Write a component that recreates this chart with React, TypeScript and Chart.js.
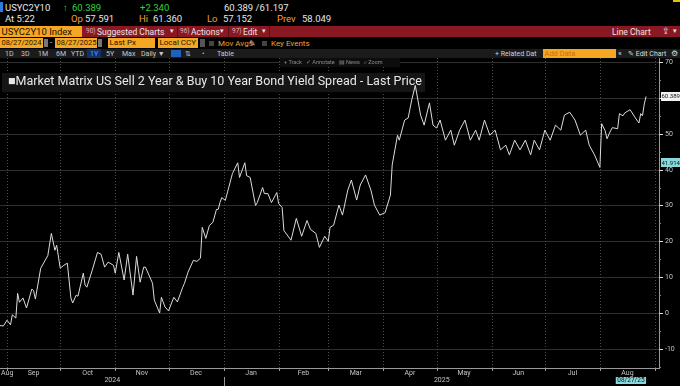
import React, { useEffect, useRef } from "react";
import { Chart, registerables } from "chart.js";
Chart.register(...registerables);

// days since 2024-08-27
const dayOffsets = [
  1, 3, 5, 7, 8, 10, 11, 12, 14, 16, 19, 20, 21, 24, 28, 30, 32, 33, 35, 37, 39, 41, 42, 44, 45, 48, 49, 50, 53, 56, 58, 60, 62,
  65, 66, 68, 71, 73, 76, 78, 80, 82, 83, 87, 88, 91, 92, 94, 96, 99, 101, 104, 105, 107, 110, 112, 114, 115, 117, 119, 121, 123,
  124, 125, 126, 128, 132, 135, 136, 139, 140, 142, 145, 146, 149, 150, 152, 154, 157, 158, 160, 161, 165, 168, 171, 174, 176,
  179, 181, 184, 186, 187, 189, 192, 194, 197, 199, 202, 204, 207, 210, 212, 215, 218, 221, 222, 225, 226, 229, 231, 233, 235,
  238, 240, 242, 243, 245, 247, 249, 252, 255, 257, 260, 263, 266, 269, 271, 274, 277, 280, 283, 286, 288, 291, 294, 297, 300,
  302, 305, 308, 311, 314, 317, 319, 322, 325, 328, 331, 333, 336, 339, 340, 342, 343, 345, 346, 349, 350, 352, 353, 356, 359,
  361, 362, 363, 364, 365,
];
const spreadValues = [
  -3.5, -3.6, -2.0, -3.3, -0.5, -1.4, 5.5, 3.0, 4.2, 1.4, 6.7, 6.2, 3.9, 12.5, 16.0, 22.2, 17.5, 18.9, 12.5, 13.3, 13.9, 4.2, 2.8,
  5.0, 4.7, 11.1, 7.8, 7.2, 11.9, 16.9, 16.4, 12.8, 14.2,
  13.3, 11.1, 16.9, 9.2, 16.4, 5.0, 15.8, 8.6, 12.8, 12.8, 8.3, 3.6, 0.0, 4.4, 1.7, 0.6, 4.4, 3.1, 7.2, 8.3, 11.4, 14.7, 14.4,
  15.3, 23.9, 20.8, 24.4, 25.3, 28.9,
  28.9, 30.8, 32.2, 31.4, 38.9, 41.9, 37.8, 41.9, 38.3, 37.8, 30.0, 30.8, 35.0, 33.3, 33.3, 30.8, 33.6, 30.6, 29.4, 23.0, 20.3,
  26.4, 21.4, 25.8, 23.3,
  22.2, 18.3, 21.4, 20.0, 23.9, 24.5, 30.1, 27.3, 34.3, 37.1, 31.5, 35.7, 38.5, 34.3, 30.1, 27.3, 28.0, 32.9, 41.3, 49.6, 48.2,
  53.8, 54.4, 59.4, 63.5,
  55.2, 52.4, 56.6, 58.6, 52.4, 51.6, 53.8, 48.2, 51.0, 46.8, 51.0, 53.8, 48.2, 51.0, 48.2, 53.8, 49.6, 51.0, 45.5, 46.8, 44.1,
  48.2, 45.5, 48.2, 44.1,
  48.2, 45.5, 51.0, 48.2, 52.4, 51.0, 55.2, 56.0, 53.8, 49.6, 51.0, 46.8, 44.1, 40.6, 52.8, 50.8, 48.6, 50.8, 51.7, 51.4, 55.6,
  55.0, 55.8, 56.7, 54.4,
  53.0, 55.6, 55.0, 58.3, 60.389,
];

const yTickValues = [-10, 0, 10, 20, 30, 40, 50, 60, 70];
const yMinorValues = [-15, -5, 5, 15, 25, 35, 45, 55, 65];
const monthBoundaryDays = [5, 35, 66, 96, 127, 158, 186, 217, 247, 278, 308, 339, 370];
const monthLabels = ["Aug", "Sep", "Oct", "Nov", "Dec", "Jan", "Feb", "Mar", "Apr", "May", "Jun", "Jul", "Aug"];
const yearLabels = ["2024", "2025"];
const yearBoundaryDay = 127;
const lastPrice = 60.389;
const markerValue = 41.914;
const lastDateLabel = "08/27/25";

const X_MIN = 1.07;
const X_MAX = 372.3;
const Y_MIN = -15.33;
const Y_MAX = 71.12;

const FONT = "Roboto, 'Liberation Sans', sans-serif";

const bbgPlugin = {
  id: "bbg",
  beforeDatasetsDraw(chart: any) {
    const { ctx, chartArea: a, scales } = chart;
    const x = scales.x;
    const y = scales.y;
    ctx.save();
    ctx.lineWidth = 1;
    ctx.strokeStyle = "#2f2f2f";
    yTickValues.forEach((v) => {
      const py = Math.round(y.getPixelForValue(v)) + 0.5;
      ctx.beginPath();
      ctx.moveTo(a.left, py);
      ctx.lineTo(a.right, py);
      ctx.stroke();
    });
    ctx.setLineDash([1, 2]);
    ctx.strokeStyle = "#4c4c4c";
    monthBoundaryDays.forEach((d) => {
      const px = Math.round(x.getPixelForValue(d)) + 0.5;
      ctx.beginPath();
      ctx.moveTo(px, a.top);
      ctx.lineTo(px, a.bottom);
      ctx.stroke();
    });
    ctx.setLineDash([]);
    // title and tool strip backgrounds
    ctx.fillStyle = "#151515";
    ctx.fillRect(2, 15, 423, 19);
    ctx.fillStyle = "#0d0d0d";
    ctx.fillRect(280, 0, 120, 9);
    ctx.restore();
  },
  afterDatasetsDraw(chart: any) {
    const { ctx, chartArea: a, scales } = chart;
    const x = scales.x;
    const y = scales.y;
    ctx.save();
    ctx.lineWidth = 1;
    ctx.strokeStyle = "#9a9a9a";
    ctx.beginPath();
    ctx.moveTo(a.right + 0.5, a.top);
    ctx.lineTo(a.right + 0.5, a.bottom + 1);
    ctx.moveTo(a.left, a.bottom + 0.5);
    ctx.lineTo(a.right + 1, a.bottom + 0.5);
    ctx.stroke();

    ctx.strokeStyle = "#dddddd";
    ctx.font = `7px ${FONT}`;
    ctx.textBaseline = "middle";
    ctx.textAlign = "left";
    ctx.fillStyle = "#c4c4c4";
    yTickValues.forEach((v) => {
      const py = Math.round(y.getPixelForValue(v)) + 0.5;
      ctx.beginPath();
      ctx.moveTo(a.right, py);
      ctx.lineTo(a.right + 4, py);
      ctx.stroke();
      ctx.fillText(String(v), a.right + 6, py);
    });
    ctx.strokeStyle = "#888";
    yMinorValues.forEach((v) => {
      const py = Math.round(y.getPixelForValue(v)) + 0.5;
      ctx.beginPath();
      ctx.moveTo(a.right, py);
      ctx.lineTo(a.right + 2, py);
      ctx.stroke();
    });

    // month ticks and labels
    ctx.strokeStyle = "#9a9a9a";
    ctx.textAlign = "center";
    ctx.fillStyle = "#c4c4c4";
    monthBoundaryDays.forEach((d) => {
      const px = Math.round(x.getPixelForValue(d)) + 0.5;
      ctx.beginPath();
      ctx.moveTo(px, a.bottom);
      ctx.lineTo(px, a.bottom + 3);
      ctx.stroke();
    });
    monthLabels.forEach((lab, i) => {
      const d0 = i === 0 ? X_MIN : monthBoundaryDays[i - 1];
      const d1 = monthBoundaryDays[i];
      let cx = (x.getPixelForValue(d0) + x.getPixelForValue(d1)) / 2;
      const w = ctx.measureText(lab).width;
      if (cx - w / 2 < 1) cx = 1 + w / 2;
      ctx.fillText(lab, cx, a.bottom + 5);
    });
    // years
    const yb = Math.round(x.getPixelForValue(yearBoundaryDay)) + 0.5;
    ctx.beginPath();
    ctx.moveTo(yb, a.bottom + 9);
    ctx.lineTo(yb, a.bottom + 18);
    ctx.stroke();
    const c1 = (x.getPixelForValue(X_MIN) + yb) / 2;
    const c2 = (yb + x.getPixelForValue(X_MAX)) / 2;
    ctx.fillText(yearLabels[0], c1, a.bottom + 12);
    ctx.fillText(yearLabels[1], c2, a.bottom + 12);

    // value labels on the right axis
    ctx.font = `6px ${FONT}`;
    const drawTag = (v: number, bg: string) => {
      const py = y.getPixelForValue(v);
      ctx.fillStyle = bg;
      ctx.fillRect(a.right + 2, Math.round(py - 4.5), 680 - a.right - 2, 9);
      ctx.fillStyle = "#111";
      ctx.textAlign = "left";
      ctx.fillText(v.toFixed(3), a.right + 2.5, py + 0.5);
    };
    drawTag(lastPrice, "#f2f2f2");
    drawTag(markerValue, "#86d9dd");

    // last date tag
    ctx.font = `6.5px ${FONT}`;
    const tw = ctx.measureText(lastDateLabel).width + 3;
    const rx = x.getPixelForValue(dayOffsets[dayOffsets.length - 1]);
    ctx.fillStyle = "#86d9dd";
    ctx.fillRect(rx - tw, a.bottom + 9, tw, 7);
    ctx.fillStyle = "#111";
    ctx.textAlign = "right";
    ctx.fillText(lastDateLabel, rx - 1.5, a.bottom + 12.7);
    ctx.restore();
  },
};

const T = (p: { x: number; y: number; c?: string; s?: number; children: any; style?: any }) => (
  <div
    style={{
      position: "absolute",
      left: p.x,
      top: p.y,
      color: p.c || "#e6e6e6",
      fontSize: p.s || 9.5,
      lineHeight: 1,
      whiteSpace: "nowrap",
      ...(p.style || {}),
    }}
  >
    {p.children}
  </div>
);

const Box = (p: { x: number; y: number; w: number; h: number; bg: string; children?: any; c?: string; s?: number }) => (
  <div
    style={{
      position: "absolute",
      left: p.x,
      top: p.y,
      width: p.w,
      height: p.h,
      background: p.bg,
      color: p.c || "#2a1800",
      fontSize: p.s || 8,
      lineHeight: `${p.h}px`,
      paddingLeft: 1.5,
      boxSizing: "border-box",
      whiteSpace: "nowrap",
      overflow: "hidden",
    }}
  >
    {p.children}
  </div>
);

export default function App() {
  const ref = useRef<HTMLCanvasElement>(null);
  useEffect(() => {
    document.body.style.margin = "0";
    document.body.style.background = "#000";
    const chart = new Chart(ref.current as HTMLCanvasElement, {
      type: "line",
      data: {
        datasets: [
          {
            data: dayOffsets.map((d, i) => ({ x: d, y: spreadValues[i] })),
            borderColor: "#dcdcdc",
            borderWidth: 1,
            pointRadius: 0,
            tension: 0,
            fill: false,
          },
        ],
      },
      options: {
        animation: false,
        responsive: false,
        devicePixelRatio: 1,
        layout: { padding: { left: 0, right: 21, top: 0, bottom: 18 } },
        plugins: { legend: { display: false }, tooltip: { enabled: false } },
        scales: {
          x: { type: "linear", display: false, min: X_MIN, max: X_MAX },
          y: { type: "linear", display: false, min: Y_MIN, max: Y_MAX },
        },
      },
      plugins: [bbgPlugin],
    } as any);
    return () => chart.destroy();
  }, []);

  const orange = "#f0a035";
  const boxOrange = "#f5a623";
  return (
    <div
      style={{
        position: "relative",
        width: 680,
        height: 386,
        background: "#000",
        overflow: "hidden",
        fontFamily: FONT,
      }}
    >
      {/* row 1 */}
      <div style={{ position: "absolute", left: 0, top: 2, width: 3, height: 10, background: "#2d7de0" }} />
      <T x={5} y={2.5}>USYC2Y10</T>
      <T x={63} y={2.5} c="#33d13f">↑</T>
      <T x={72} y={2.5} c="#33d13f">60.389</T>
      <T x={140} y={2.5} c="#33d13f">+2.340</T>
      <T x={224} y={2.5}>60.389 /61.197</T>
      <div style={{ position: "absolute", left: 673, top: 0, width: 7, height: 2, background: "#e5c100" }} />
      {/* row 2 */}
      <T x={5} y={13.5}>At 5:22</T>
      <T x={71} y={13.5} c={orange}>Op</T>
      <T x={85} y={13.5}>57.591</T>
      <T x={139} y={13.5} c={orange}>Hi</T>
      <T x={153} y={13.5}>61.360</T>
      <T x={207} y={13.5} c={orange}>Lo</T>
      <T x={223} y={13.5}>57.152</T>
      <T x={277} y={13.5} c={orange}>Prev</T>
      <T x={302} y={13.5}>58.049</T>
      {/* row 3 red bar */}
      <div style={{ position: "absolute", left: 0, top: 26, width: 680, height: 11, background: "#8a1823" }} />
      <Box x={0} y={26} w={82} h={11} bg={boxOrange} c="#1a1000" s={9.5}>USYC2Y10 Index</Box>
      <T x={86} y={28} s={6.5} c="#d9b0b0">90)</T>
      <T x={97} y={27.5} s={8.5}>Suggested Charts</T>
      <T x={170} y={28} s={7}>▾</T>
      <T x={180} y={28} s={6.5} c="#d9b0b0">96)</T>
      <T x={191} y={27.5} s={8.5}>Actions</T>
      <T x={220} y={28} s={7}>▾</T>
      <T x={232} y={28} s={6.5} c="#d9b0b0">97)</T>
      <T x={243} y={27.5} s={8.5}>Edit</T>
      <T x={262} y={28} s={7}>▾</T>
      <div style={{ position: "absolute", left: 177, top: 26, width: 1, height: 11, background: "#5c0f16" }} />
      <div style={{ position: "absolute", left: 228, top: 26, width: 1, height: 11, background: "#5c0f16" }} />
      <div style={{ position: "absolute", left: 269, top: 26, width: 1, height: 11, background: "#5c0f16" }} />
      <T x={612} y={27.5} s={8.5}>Line Chart</T>
      <T x={662} y={27} s={9}>⇪</T>
      <T x={673} y={28} s={7}>▾</T>
      {/* row 4 */}
      <Box x={0} y={38} w={43} h={10} bg={boxOrange} s={7.5}>08/27/2024</Box>
      <div style={{ position: "absolute", left: 44, top: 39, width: 4, height: 8, background: "#777" }} />
      <T x={50} y={39} s={8}>-</T>
      <Box x={55} y={38} w={42} h={10} bg={boxOrange} s={7.5}>08/27/2025</Box>
      <div style={{ position: "absolute", left: 98, top: 39, width: 4, height: 8, background: "#777" }} />
      <Box x={108} y={38} w={47} h={10} bg={boxOrange} s={8}>Last Px</Box>
      <Box x={158} y={38} w={40} h={10} bg={boxOrange} s={8}>Local CCY</Box>
      <div style={{ position: "absolute", left: 200, top: 39, width: 5, height: 8, background: "#555" }} />
      <div style={{ position: "absolute", left: 209, top: 41, width: 5, height: 5, background: "#444" }} />
      <T x={218} y={39.5} s={8} c={orange}>Mov Avgs</T>
      <T x={249} y={39.5} s={7.5} c="#bbb">✎</T>
      <div style={{ position: "absolute", left: 262, top: 41, width: 5, height: 5, background: "#444" }} />
      <T x={271} y={39.5} s={8} c={orange}>Key Events</T>
      {/* row 5 */}
      <div style={{ position: "absolute", left: 0, top: 49, width: 680, height: 9, background: "#1b1b1b" }} />
      <div style={{ position: "absolute", left: 87, top: 49, width: 14, height: 9, background: "#10316a" }} />
      {[
        ["1D", 5],
        ["3D", 21],
        ["1M", 38],
        ["6M", 56],
        ["YTD", 71],
        ["5Y", 106],
        ["Max", 122],
        ["Daily ▼", 141],
        ["⇅", 185],
        ["•", 202],
        ["Table", 217],
      ].map(([t, x]) => (
        <T key={t as string} x={x as number} y={50.5} s={7} c="#c8c8c8">
          {t}
        </T>
      ))}
      <T x={90} y={50.5} s={7} c="#5aa0ff">1Y</T>
      <div style={{ position: "absolute", left: 171, top: 50, width: 10, height: 7, background: "#1f5fbf" }} />
      <T x={495} y={50.5} s={7} c="#d0d0d0">+ Related Dat</T>
      <Box x={543} y={49} w={73} h={9} bg={boxOrange} c="#c9700a" s={7.5}>Add Data</Box>
      <T x={618} y={50} s={8} c="#ddd">«</T>
      <T x={628} y={50.5} s={7} c="#ddd">✎ Edit Chart</T>
      <T x={671} y={50} s={8} c="#ddd">⚙</T>
      {/* chart */}
      <canvas
        ref={ref}
        width={680}
        height={328}
        style={{ position: "absolute", left: 0, top: 58, width: 680, height: 328, display: "block" }}
      />
      <T x={284} y={59.5} s={5.5} c="#8a8a8a">
        + Track &nbsp;&nbsp;✓ Annotate &nbsp;&nbsp;▤ News &nbsp;&nbsp;⌕ Zoom
      </T>
      <T x={8} y={75} s={12.5} c="#e8e8e8">
        ■Market Matrix US Sell 2 Year &amp; Buy 10 Year Bond Yield Spread - Last Price
      </T>
    </div>
  );
}
